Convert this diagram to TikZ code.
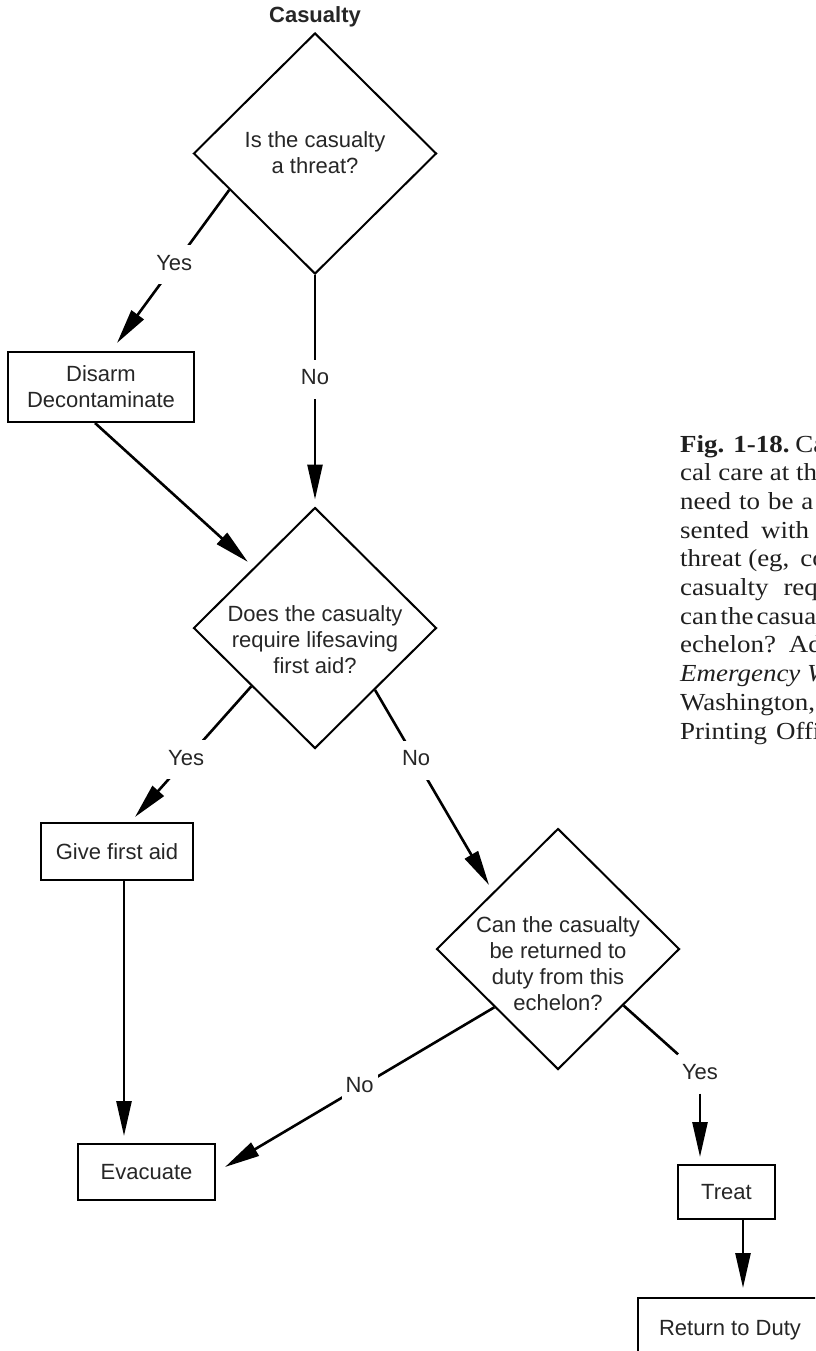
\documentclass[tikz,border=0pt]{standalone}
\usepackage{fontspec}
\setmainfont{Liberation Sans}
\newfontfamily\capfont[FakeStretch=1.1]{Liberation Serif}
\usetikzlibrary{shapes.geometric,arrows.meta,calc}

\begin{document}
\begin{tikzpicture}[x=1pt,y=-1pt,
  every node/.style={font=\fontsize{22}{26}\selectfont, text=black!85},
  dia/.style={draw=black, shape=diamond, line width=2pt, aspect=1,
              minimum width=243pt, minimum height=241pt, inner sep=0pt},
  qtext/.style={align=center, inner sep=0pt},
  box/.style={draw=black, line width=2pt, align=center, inner sep=0pt},
  conn/.style={draw=black, line width=2.6pt},
  arr/.style={conn, -{Triangle[length=35pt,width=15pt]}},
  lbl/.style={fill=white, inner xsep=4pt, inner ysep=9pt,
              text height=16pt, text depth=5pt},
  capline/.style={anchor=base west, inner sep=0pt,
                  font=\capfont\fontsize{24.5}{28.7}\selectfont, text=black!88}
]
\useasboundingbox (0,0) rectangle (815,1351);
\clip (0,0) rectangle (815,1351);

% decision diamonds and their questions
\node[font=\bfseries\fontsize{22}{26}\selectfont] (title) at (315,17) {Casualty};
\node[dia] (d1) at (315,153.5) {};
\node[qtext] (q1) at (315,153) {Is the casualty\\a threat?};

\node[dia] (d2) at (315,628) {};
\node[qtext] (q2) at (315,640) {Does the casualty\\require lifesaving\\first aid?};

\node[dia] (d3) at (558,949) {};
\node[qtext] (q3) at (558,964) {Can the casualty\\be returned to\\duty from this\\echelon?};

% action boxes
\node[box, minimum width=186pt, minimum height=70pt] (disarm) at (101,387) {Disarm\\Decontaminate};
\node[box, minimum width=152pt, minimum height=57pt] (give) at (117,851.5) {Give first aid};
\node[box, minimum width=137pt, minimum height=56pt] (evac) at (146.5,1172) {Evacuate};
\node[box, minimum width=97pt, minimum height=54pt] (treat) at (726.5,1192) {Treat};
\node[box, minimum width=184pt, minimum height=64pt] (ret) at (730,1330) {Return to Duty};

% connector end points
\coordinate (s1) at ($(d1.west)!0.3!(d1.south)$);
\coordinate (e1) at (117,343);
\coordinate (e2) at ($(d2.west)!0.5!(d2.north)$);
\coordinate (s3) at ($(d2.west)!0.48!(d2.south)$);
\coordinate (e3) at (135,817);
\coordinate (s4) at ($(d2.south)!0.49!(d2.east)$);
\coordinate (e4) at (489,885);
\coordinate (g1) at ($(give.south)+(7,0)$);
\coordinate (s5) at ($(d3.west)!0.48!(d3.south)$);
\coordinate (e5) at (225,1167);
\coordinate (s6) at ($(d3.south)!0.535!(d3.east)$);
\coordinate (t1) at ($(treat.south)+(16.5,0)$);

% connectors
\draw[arr] (s1) -- node[lbl, pos=0.49] {Yes} (e1);
\draw[arr, shorten >=7pt] (d1.south) -- node[lbl, pos=0.45] {No} (d2.north);
\draw[arr, shorten >=8pt] ($(disarm.south)+(-6,0)$) -- (e2);
\draw[arr] (s3) -- node[lbl, pos=0.56] {Yes} (e3);
\draw[arr] (s4) -- node[lbl, pos=0.36] {No} (e4);
\draw[arr, shorten >=7pt] (g1) -- (g1 |- evac.north);
\draw[arr] (s5) -- node[lbl, pos=0.5] {No} (e5);
\node[lbl] (y3) at (700,1074) {Yes};
\draw[conn] (s6) -- (y3);
\draw[arr, shorten >=7pt] (y3.south) -- (y3.south |- treat.north);
\draw[arr, shorten >=9pt] (t1) -- (t1 |- ret.north);

% figure caption
\node[capline] (c1) at (680,452.0) {\textbf{Fig. 1-18.}\hspace{6pt}Casualty flowchart};
\node[capline] (c2) at (680,480.7) {cal care at the point of};
\node[capline] (c3) at (680,509.4) {need\hspace{8pt}to\hspace{8pt}be\hspace{8pt}a\hspace{16pt}casualty};
\node[capline] (c4) at (680,538.1) {sented\hspace{12pt}with\hspace{12pt}a casualty};
\node[capline] (c5) at (680,566.8) {threat (eg,\hspace{11pt}combatant)};
\node[capline] (c6) at (680,595.5) {casualty\hspace{15pt}require};
\node[capline] (c7) at (680,624.2) {can\hspace{3pt}the\hspace{3pt}casualty be};
\node[capline] (c8) at (680,652.9) {echelon?\hspace{13pt}Adapted};
\node[capline] (c9) at (680,681.6) {\textit{Emergency War Surgery}};
\node[capline] (c10) at (680,710.3) {Washington, DC};
\node[capline] (c11) at (680,739.0) {Printing\hspace{9pt}Office};
\end{tikzpicture}
\end{document}
